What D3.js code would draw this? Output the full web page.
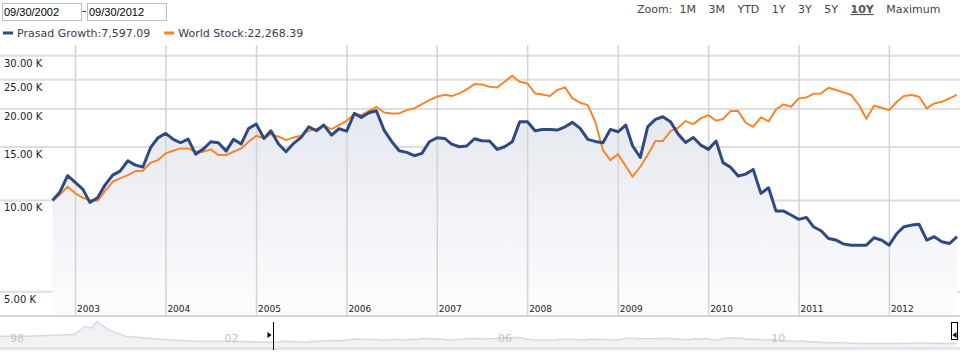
<!DOCTYPE html>
<html>
<head>
<meta charset="utf-8">
<script src="https://cdn.jsdelivr.net/npm/d3@7"></script>
<style>
  body { margin: 0; background: #fff; }
  svg { display: block; font-family: "DejaVu Sans", Verdana, sans-serif; }
</style>
</head>
<body>
<div id="chart-area"></div>
<script>

// Growth of 10K, month ends 09/30/2002 - 09/30/2012
var prasadGrowth = [
  10000, 10680, 12060, 11460, 10870, 9850, 10200, 11230, 12120, 12490,
  13510, 13070, 12880, 14920, 16090, 16630, 15890, 15490, 15930, 14210,
  14760, 15610, 15490, 14540, 15890, 15340, 17270, 17850, 16010, 16970,
  15350, 14470, 15420, 16130, 17490, 16970, 17720, 16420, 17230, 16920,
  19360, 18780, 19450, 19750, 17060, 15690, 14580, 14400, 14040, 14290,
  15610, 16090, 16010, 15340, 15030, 15110, 15970, 15730, 15690, 14730,
  15030, 15610, 18170, 18170, 16970, 17140, 17140, 17060, 17490, 18080,
  17270, 15890, 15650, 15490, 17140, 16840, 17720, 15110, 13860, 17490,
  18490, 18870, 18170, 16540, 15530, 16130, 15220, 14730, 15690, 13320,
  12850, 12030, 12210, 12650, 10550, 11010, 9220, 9220, 8950, 8660,
  8790, 8190, 7940, 7490, 7400, 7180, 7120, 7120, 7120, 7530,
  7400, 7120, 7780, 8190, 8290, 8340, 7400, 7590, 7310, 7210,
  7597.09
];

var worldStock = [
  10000, 10470, 11090, 10550, 10200, 10020, 9970, 10730, 11520, 11820,
  12120, 12490, 12520, 13310, 13580, 14290, 14580, 14840, 14840, 14470,
  14470, 14730, 14110, 14110, 14470, 14840, 15610, 16340, 16010, 16540,
  16220, 15800, 16130, 16340, 16970, 17190, 17630, 17190, 17720, 18300,
  19260, 19110, 19750, 20360, 19500, 19360, 19360, 19850, 20110, 20780,
  21420, 21970, 22310, 22080, 22530, 23230, 24180, 24120, 23700, 23580,
  24610, 25760, 24610, 24310, 22530, 22360, 22080, 23110, 23580, 21690,
  20990, 20620, 18170, 14650, 13580, 14210, 12980, 11970, 12910, 14110,
  15690, 15690, 16920, 17360, 18260, 17850, 18640, 19110, 18300, 18560,
  19700, 19700, 18030, 17490, 18780, 18220, 19950, 20730, 20360, 21690,
  21860, 22470, 22530, 23520, 23110, 22700, 22250, 20620, 18590, 20520,
  20210, 19850, 21150, 22080, 22250, 21970, 20110, 20880, 21150, 21690,
  22268.39
];

var seriesNames  = ["Prasad Growth", "World Stock"];
var seriesColors = ["#2f4a7f", "#f7862a"];

var dateRange   = ["09/30/2002", "09/30/2012"];
var zoomButtons = ["1M", "3M", "YTD", "1Y", "3Y", "5Y", "10Y", "Maximum"];
var activeZoom  = "10Y";

var yTickValues = [5000, 10000, 15000, 20000, 25000, 30000];
var xTickYears  = [2003, 2004, 2005, 2006, 2007, 2008, 2009, 2010, 2011, 2012];

// Navigator: Prasad Growth history before the selected window
var navEarlyDates  = ["1998-09-30", "1999-01-31", "1999-06-30", "1999-10-31", "1999-12-31",
                      "2000-01-31", "2000-02-29", "2000-04-30", "2000-07-31", "2000-10-31",
                      "2001-01-31", "2001-06-30", "2001-09-30", "2002-01-31", "2002-06-30"];
var navEarlyValues = [22600, 22600, 24000, 26000, 42600,
                      39000, 52600, 36000, 22600, 19400,
                      16000, 12600, 12000, 12000, 10600];
var navTickYears  = [1998, 2002, 2006, 2010];
var navTickLabels = ["98", "02", "06", "10"];


/*
 * PerformanceChart - Object constructor function
 * @param _parentElement  -- the HTML element in which to draw the chart
 */

PerformanceChart = function(_parentElement){
  this.parentElement = _parentElement;
  this.initVis();
}

PerformanceChart.prototype.initVis = function(){
  var vis = this;

  vis.width = 960;
  vis.height = 353;
  vis.plotTop = 45;
  vis.plotBottom = 316;

  vis.svg = d3.select("#" + vis.parentElement).append("svg")
    .attr("width", vis.width)
    .attr("height", vis.height);

  var defs = vis.svg.append("defs");
  var grad = defs.append("linearGradient")
    .attr("id", "area-fill")
    .attr("gradientUnits", "userSpaceOnUse")
    .attr("x1", 0).attr("x2", 0)
    .attr("y1", 90).attr("y2", vis.plotBottom);
  grad.append("stop").attr("offset", 0).attr("stop-color", "#e3e6ee");
  grad.append("stop").attr("offset", 1).attr("stop-color", "#fdfdfe");

  // Scales
  vis.x = d3.scaleTime()
    .domain([new Date(2002, 8, 30), new Date(2012, 8, 30)])
    .range([52.5, 957]);

  vis.y = d3.scaleLog()
    .domain([5000, 30000])
    .range([291.7, 55.7]);

  vis.navX = d3.scaleTime()
    .domain([new Date(1998, 8, 30), new Date(2012, 8, 30)])
    .range([0, 957]);

  vis.navY = d3.scaleLinear()
    .domain([0, 53000])
    .range([347, 321.5]);

  vis.drawHeader();
  vis.wrangleData();
}

PerformanceChart.prototype.drawHeader = function(){
  var vis = this;

  // Date range inputs
  var boxes = vis.svg.append("g").attr("class", "date-range");
  dateRange.forEach(function(d, i){
    var bx = 2.5 + i * 85;
    boxes.append("rect")
      .attr("x", bx).attr("y", 3.5)
      .attr("width", 79).attr("height", 17)
      .attr("fill", "#fff")
      .attr("stroke", "#bdbdbd");
    boxes.append("text")
      .attr("x", bx + 1.5).attr("y", 16)
      .style("font-family", "'Liberation Sans', Arial, sans-serif")
      .style("font-size", "11px")
      .attr("fill", "#000")
      .text(d);
  });
  boxes.append("line")
    .attr("x1", 82.5).attr("x2", 86)
    .attr("y1", 11.5).attr("y2", 11.5)
    .attr("stroke", "#333");

  // Legend
  var lastValues = [prasadGrowth[prasadGrowth.length - 1], worldStock[worldStock.length - 1]];
  var fmt = d3.format(",.2f");
  var lx = 3;
  seriesNames.forEach(function(name, i){
    vis.svg.append("rect")
      .attr("x", lx).attr("y", 31.5)
      .attr("width", 10).attr("height", 3)
      .attr("fill", seriesColors[i]);
    var t = vis.svg.append("text")
      .attr("x", lx + 14).attr("y", 37)
      .style("font-size", "11px")
      .attr("fill", "#3b3b4f")
      .text(name + ":" + fmt(lastValues[i]));
    lx = lx + 14 + t.node().getComputedTextLength() + 14;
  });

  // Zoom buttons
  var zx = 637;
  var zLabel = vis.svg.append("text")
    .attr("x", zx).attr("y", 13)
    .style("font-size", "11px")
    .attr("fill", "#444")
    .text("Zoom:");
  zx += zLabel.node().getComputedTextLength() + 7;
  zoomButtons.forEach(function(b){
    var t = vis.svg.append("text")
      .attr("x", zx).attr("y", 13)
      .style("font-size", "11px")
      .style("font-weight", b == activeZoom ? "bold" : "normal")
      .style("text-decoration", b == activeZoom ? "underline" : "none")
      .attr("fill", b == activeZoom ? "#555" : "#444")
      .text(b);
    zx += t.node().getComputedTextLength() + 12.5;
  });
}

PerformanceChart.prototype.wrangleData = function(){
  var vis = this;

  // month-end dates for the selected window
  vis.dates = d3.timeMonth.range(new Date(2002, 9, 1), new Date(2012, 10, 1))
    .map(function(d){ return d3.timeDay.offset(d, -1); });

  vis.series = [prasadGrowth, worldStock].map(function(values, s){
    return values.map(function(v, i){ return { date: vis.dates[i], value: v }; });
  });

  var parse = d3.timeParse("%Y-%m-%d");
  vis.navData = navEarlyDates.map(function(d, i){
    return { date: parse(d), value: navEarlyValues[i] };
  }).concat(vis.series[0]);

  vis.updateVis();
}

PerformanceChart.prototype.updateVis = function(){
  var vis = this;

  var plot = vis.svg.append("g").attr("class", "plot");

  // Horizontal grid + labels
  plot.selectAll(".hgrid")
    .data(yTickValues)
    .enter().append("line")
    .attr("class", "hgrid")
    .attr("x1", 0).attr("x2", vis.width)
    .attr("y1", function(d){ return vis.y(d); })
    .attr("y2", function(d){ return vis.y(d); })
    .attr("stroke", "#dedede")
    .attr("stroke-width", 2);

  // Area under Prasad Growth
  var area = d3.area()
    .x(function(d){ return vis.x(d.date); })
    .y0(vis.plotBottom)
    .y1(function(d){ return vis.y(d.value); });

  plot.append("path")
    .datum(vis.series[0])
    .attr("d", area)
    .attr("fill", "url(#area-fill)");

  // Vertical grid
  plot.selectAll(".vgrid")
    .data(xTickYears)
    .enter().append("line")
    .attr("class", "vgrid")
    .attr("x1", function(d){ return vis.x(new Date(d, 0, 1)); })
    .attr("x2", function(d){ return vis.x(new Date(d, 0, 1)); })
    .attr("y1", vis.plotTop).attr("y2", vis.plotBottom)
    .attr("stroke", "#d3d3d3")
    .attr("stroke-width", 1.5);

  plot.append("line")
    .attr("x1", 0).attr("x2", vis.width)
    .attr("y1", vis.plotBottom).attr("y2", vis.plotBottom)
    .attr("stroke", "#d6d6d6")
    .attr("stroke-width", 2);

  plot.selectAll(".ylabel")
    .data(yTickValues)
    .enter().append("text")
    .attr("class", "ylabel")
    .attr("x", 4)
    .attr("y", function(d){ return vis.y(d) + 11; })
    .style("font-size", "10px")
    .attr("fill", "#222")
    .text(function(d){ return d3.format(".2f")(d / 1000) + " K"; });

  plot.selectAll(".xlabel")
    .data(xTickYears)
    .enter().append("text")
    .attr("class", "xlabel")
    .attr("x", function(d){ return vis.x(new Date(d, 0, 1)) + 1.5; })
    .attr("y", 311.5)
    .style("font-size", "9px")
    .attr("fill", "#222")
    .text(function(d){ return d; });

  // Lines
  var line = d3.line()
    .x(function(d){ return vis.x(d.date); })
    .y(function(d){ return vis.y(d.value); });

  plot.append("path")
    .datum(vis.series[1])
    .attr("d", line)
    .attr("fill", "none")
    .attr("stroke", seriesColors[1])
    .attr("stroke-width", 2)
    .attr("stroke-linejoin", "round");

  plot.append("path")
    .datum(vis.series[0])
    .attr("d", line)
    .attr("fill", "none")
    .attr("stroke", seriesColors[0])
    .attr("stroke-width", 3)
    .attr("stroke-linejoin", "round");

  vis.drawNavigator();
}

PerformanceChart.prototype.drawNavigator = function(){
  var vis = this;
  var nav = vis.svg.append("g").attr("class", "navigator");

  var navArea = d3.area()
    .x(function(d){ return vis.navX(d.date); })
    .y0(vis.navY(0))
    .y1(function(d){ return vis.navY(d.value); });

  var navLine = d3.line()
    .x(function(d){ return vis.navX(d.date); })
    .y(function(d){ return vis.navY(d.value); });

  nav.append("path")
    .datum(vis.navData)
    .attr("d", navArea)
    .attr("fill", "#f2f2f5");

  nav.append("path")
    .datum(vis.navData)
    .attr("d", navLine)
    .attr("fill", "none")
    .attr("stroke", "#d5d8e6")
    .attr("stroke-width", 1.5);

  nav.append("line")
    .attr("x1", 0).attr("x2", vis.width)
    .attr("y1", 348.5).attr("y2", 348.5)
    .attr("stroke", "#e6e6e6")
    .attr("stroke-width", 3);

  nav.selectAll(".navlabel")
    .data(navTickYears)
    .enter().append("text")
    .attr("class", "navlabel")
    .attr("x", function(d){ return Math.max(vis.navX(new Date(d, 0, 1)), 8) + 2; })
    .attr("y", 342)
    .style("font-size", "11px")
    .attr("fill", "#c4c4c4")
    .text(function(d, i){ return navTickLabels[i]; });

  // Selection handles
  var x0 = Math.round(vis.navX(vis.dates[0])) + 0.5;
  var x1 = Math.round(vis.navX(vis.dates[vis.dates.length - 1])) - 5.5;

  nav.append("line")
    .attr("x1", x0).attr("x2", x0)
    .attr("y1", 322).attr("y2", 350)
    .attr("stroke", "#000");
  nav.append("path")
    .attr("d", "M" + (x0 - 6) + ",332 L" + (x0 - 2) + ",335 L" + (x0 - 6) + ",338 Z")
    .attr("fill", "#000");

  nav.append("rect")
    .attr("x", x1).attr("y", 322.5)
    .attr("width", 6).attr("height", 17)
    .attr("fill", "#fff")
    .attr("stroke", "#000");
  nav.append("path")
    .attr("d", "M" + (x1 + 5) + ",332 L" + (x1 + 1) + ",335 L" + (x1 + 5) + ",338 Z")
    .attr("fill", "#000");
}

var chart = new PerformanceChart("chart-area");

</script>
</body>
</html>
